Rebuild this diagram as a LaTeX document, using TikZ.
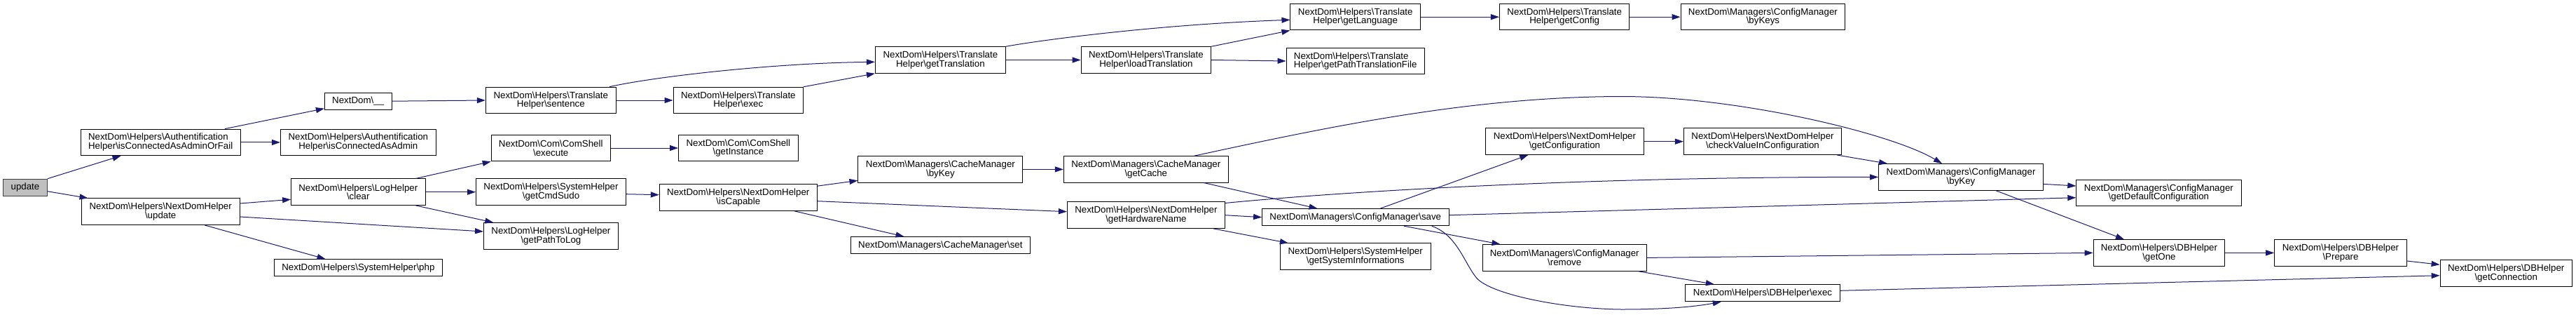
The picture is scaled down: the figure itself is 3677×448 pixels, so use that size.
\documentclass[tikz,border=0pt]{standalone}
\usepackage{fontspec}
\setmainfont{Liberation Sans}
\usetikzlibrary{arrows.meta}
\newcommand\NDbs{\textbackslash}
\definecolor{edgecol}{RGB}{25,25,112}
\definecolor{rootfill}{RGB}{191,191,191}
\begin{document}
\begin{tikzpicture}[x=1pt,y=-1pt,
  box/.style={draw=black, line width=1pt, inner sep=0pt, minimum height=37.5pt, align=center,
    font=\fontsize{13.3}{12.7}\selectfont},
  one/.style={minimum height=24pt},
  e/.style={draw=edgecol, line width=1pt, -{Triangle[length=12pt,width=8pt]}}]
\useasboundingbox (0,0) rectangle (3677,448);
% nodes
\node[box,one,fill=rootfill,draw=black!75,minimum width=62.6pt] (update) at (36,267.2) {update};
\node[box,align=left,minimum width=228.3pt] (authfail) at (229.2,202.9) {NextDom\NDbs Helpers\NDbs Authentification\\Helper\NDbs isConnectedAsAdminOrFail};
\node[box,minimum width=225.7pt] (ndhupdate) at (229.2,301.7) {NextDom\NDbs Helpers\NDbs NextDomHelper\\\NDbs update};
\node[box,one,minimum width=95.6pt] (under) at (511.2,144.2) {NextDom\NDbs\_\_};
\node[box,minimum width=221.6pt] (authadmin) at (511.3,202.9) {NextDom\NDbs Helpers\NDbs Authentification\\Helper\NDbs isConnectedAsAdmin};
\node[box,minimum width=191.4pt] (logclear) at (511.3,273.7) {NextDom\NDbs Helpers\NDbs LogHelper\\\NDbs clear};
\node[box,one,minimum width=239.7pt] (sysphp) at (511.4,381.7) {NextDom\NDbs Helpers\NDbs SystemHelper\NDbs php};
\node[box,minimum width=186pt] (sentence) at (786.3,143) {NextDom\NDbs Helpers\NDbs Translate\\Helper\NDbs sentence};
\node[box,minimum width=170pt] (csexec) at (786.2,211) {NextDom\NDbs Com\NDbs ComShell\\\NDbs execute};
\node[box,minimum width=214pt] (cmdsudo) at (786.5,273.7) {NextDom\NDbs Helpers\NDbs SystemHelper\\\NDbs getCmdSudo};
\node[box,minimum width=191.8pt] (pathlog) at (786.4,336.4) {NextDom\NDbs Helpers\NDbs LogHelper\\\NDbs getPathToLog};
\node[box,minimum width=185.5pt] (thexec) at (1053.8,143) {NextDom\NDbs Helpers\NDbs Translate\\Helper\NDbs exec};
\node[box,minimum width=170.5pt] (csinst) at (1053.8,211) {NextDom\NDbs Com\NDbs ComShell\\\NDbs getInstance};
\node[box,minimum width=225pt] (iscap) at (1053.8,281.7) {NextDom\NDbs Helpers\NDbs NextDomHelper\\\NDbs isCapable};
\node[box,minimum width=186pt] (gettrans) at (1342.4,85.5) {NextDom\NDbs Helpers\NDbs Translate\\Helper\NDbs getTranslation};
\node[box,minimum width=235pt] (cmbykey) at (1342.4,241.4) {NextDom\NDbs Managers\NDbs CacheManager\\\NDbs byKey};
\node[box,one,minimum width=256.3pt] (cmset) at (1342.4,349.7) {NextDom\NDbs Managers\NDbs CacheManager\NDbs set};
\node[box,minimum width=185.4pt] (loadtrans) at (1635.9,85.5) {NextDom\NDbs Helpers\NDbs Translate\\Helper\NDbs loadTranslation};
\node[box,minimum width=235pt] (getcache) at (1635.8,241.4) {NextDom\NDbs Managers\NDbs CacheManager\\\NDbs getCache};
\node[box,minimum width=225pt] (hwname) at (1635.9,306.7) {NextDom\NDbs Helpers\NDbs NextDomHelper\\\NDbs getHardwareName};
\node[box,minimum width=185.5pt] (getlang) at (1934.7,24.2) {NextDom\NDbs Helpers\NDbs Translate\\Helper\NDbs getLanguage};
\node[box,align=left,minimum width=197.3pt] (pathfile) at (1934.7,87) {NextDom\NDbs Helpers\NDbs Translate\\Helper\NDbs getPathTranslationFile};
\node[box,one,minimum width=266.4pt] (save) at (1934.8,309.7) {NextDom\NDbs Managers\NDbs ConfigManager\NDbs save};
\node[box,minimum width=214.7pt] (sysinfo) at (1934.7,365.7) {NextDom\NDbs Helpers\NDbs SystemHelper\\\NDbs getSystemInformations};
\node[box,minimum width=185.5pt] (getconfig) at (2233.2,24.2) {NextDom\NDbs Helpers\NDbs Translate\\Helper\NDbs getConfig};
\node[box,minimum width=225.3pt] (getconfn) at (2233.4,201.7) {NextDom\NDbs Helpers\NDbs NextDomHelper\\\NDbs getConfiguration};
\node[box,minimum width=234.4pt] (remove) at (2233.2,367.4) {NextDom\NDbs Managers\NDbs ConfigManager\\\NDbs remove};
\node[box,minimum width=234.7pt] (bykeys) at (2516.4,24.2) {NextDom\NDbs Managers\NDbs ConfigManager\\\NDbs byKeys};
\node[box,minimum width=225.1pt] (checkval) at (2516,201.7) {NextDom\NDbs Helpers\NDbs NextDomHelper\\\NDbs checkValueInConfiguration};
\node[box,one,minimum width=220.3pt] (dbexec) at (2516,417.7) {NextDom\NDbs Helpers\NDbs DBHelper\NDbs exec};
\node[box,minimum width=234.9pt] (cfgbykey) at (2799,252.4) {NextDom\NDbs Managers\NDbs ConfigManager\\\NDbs byKey};
\node[box,minimum width=235.2pt] (defconf) at (3081.4,275) {NextDom\NDbs Managers\NDbs ConfigManager\\\NDbs getDefaultConfiguration};
\node[box,minimum width=187.7pt] (getone) at (3081.9,360.4) {NextDom\NDbs Helpers\NDbs DBHelper\\\NDbs getOne};
\node[box,minimum width=188.6pt] (prepare) at (3341,360.4) {NextDom\NDbs Helpers\NDbs DBHelper\\\NDbs Prepare};
\node[box,minimum width=188.3pt] (getconn) at (3577.2,389.5) {NextDom\NDbs Helpers\NDbs DBHelper\\\NDbs getConnection};
% edges
\draw[e] (update.north east) -- ([xshift=58pt]authfail.south west);
\draw[e] ([yshift=-5.5pt]update.east) -- ([xshift=9.7pt]ndhupdate.north west);
\draw[e] ([xshift=-23pt]authfail.north east) -- ([yshift=2pt]under.south west);
\draw[e] (authfail.east) -- (authadmin.west);
\draw[e] (under.east) -- (sentence.west);
\draw[e] (sentence.east) -- (thexec.west);
\draw[e] ([xshift=-10pt]sentence.north east) .. controls (930,110) and (1100,90) .. ([yshift=-2.8pt]gettrans.west);
\draw[e] (thexec.north east) -- (gettrans.south west);
\draw[e] (gettrans.east) -- (loadtrans.west);
\draw[e] (gettrans.north east) .. controls (1480,58) and (1650,35) .. ([yshift=-4.1pt]getlang.west);
\draw[e] (loadtrans.north east) -- (getlang.south west);
\draw[e] (loadtrans.east) -- (pathfile.west);
\draw[e] (getlang.east) -- (getconfig.west);
\draw[e] (getconfig.east) -- (bykeys.west);
\draw[e] ([yshift=11.7pt]ndhupdate.east) -- ([yshift=-10.6pt]logclear.west);
\draw[e] ([yshift=-7.3pt]ndhupdate.east) -- ([yshift=6.4pt]pathlog.west);
\draw[e] ([xshift=-50.3pt]ndhupdate.south east) -- ([xshift=73.5pt]sysphp.north west);
\draw[e] ([xshift=-14pt]logclear.north east) -- (csexec.south west);
\draw[e] (logclear.east) -- (cmdsudo.west);
\draw[e] ([xshift=-14pt]logclear.south east) -- ([xshift=14.3pt]pathlog.north west);
\draw[e] (csexec.east) -- (csinst.west);
\draw[e] ([yshift=-3pt]cmdsudo.east) -- ([yshift=4pt]iscap.west);
\draw[e] ([yshift=-2.7pt]iscap.north east) -- ([yshift=3.3pt]cmbykey.south west);
\draw[e] ([yshift=-5pt]iscap.east) -- ([yshift=5pt]hwname.west);
\draw[e] ([xshift=-32.5pt]iscap.south east) -- ([xshift=76.8pt]cmset.north west);
\draw[e] (cmbykey.east) -- (getcache.west);
\draw[e] ([xshift=-49pt]getcache.north east) .. controls (1900,180) and (2100,138) .. (2314,137.5) .. controls (2480,137.5) and (2700,190) .. ([xshift=-27pt]cfgbykey.north);
\draw[e] ([xshift=-35pt]getcache.south east) -- ([xshift=79.4pt]save.north west);
\draw[e] (hwname.east) -- (save.west);
\draw[e] ([yshift=-2pt]hwname.north east) .. controls (1950,270) and (2300,252) .. (cfgbykey.west);
\draw[e] ([xshift=-16.6pt]hwname.south east) -- ([xshift=12pt]sysinfo.north west);
\draw[e] ([xshift=35.2pt]save.north) -- ([xshift=61pt]getconfn.south west);
\draw[e] ([yshift=3pt]save.east) -- ([yshift=-6.7pt]defconf.west);
\draw[e] ([xshift=-64.4pt]save.south east) -- ([xshift=26pt]remove.north west);
\draw[e] ([xshift=-24.8pt]save.south east) .. controls (2080,335) and (2090,375) .. (2108,396.7) .. controls (2130,420) and (2230,440) .. (2314,441) .. controls (2380,441) and (2420,437) .. ([xshift=51.4pt]dbexec.south west);
\draw[e] (getconfn.east) -- (checkval.west);
\draw[e] ([xshift=-7pt]checkval.south east) -- ([xshift=13pt]cfgbykey.north west);
\draw[e] (remove.east) -- (getone.west);
\draw[e] ([xshift=-12.7pt]remove.south east) -- ([xshift=41.5pt]dbexec.north west);
\draw[e] ([yshift=-10pt]cfgbykey.east) -- ([yshift=10pt]defconf.west);
\draw[e] ([xshift=49.8pt]cfgbykey.south) -- ([xshift=44.4pt]getone.north west);
\draw[e] ([yshift=3.4pt]dbexec.east) -- ([yshift=-3.2pt]getconn.west);
\draw[e] (getone.east) -- (prepare.west);
\draw[e] ([yshift=-11.6pt]prepare.east) -- ([yshift=-7pt]getconn.north west);
\end{tikzpicture}
\end{document}
